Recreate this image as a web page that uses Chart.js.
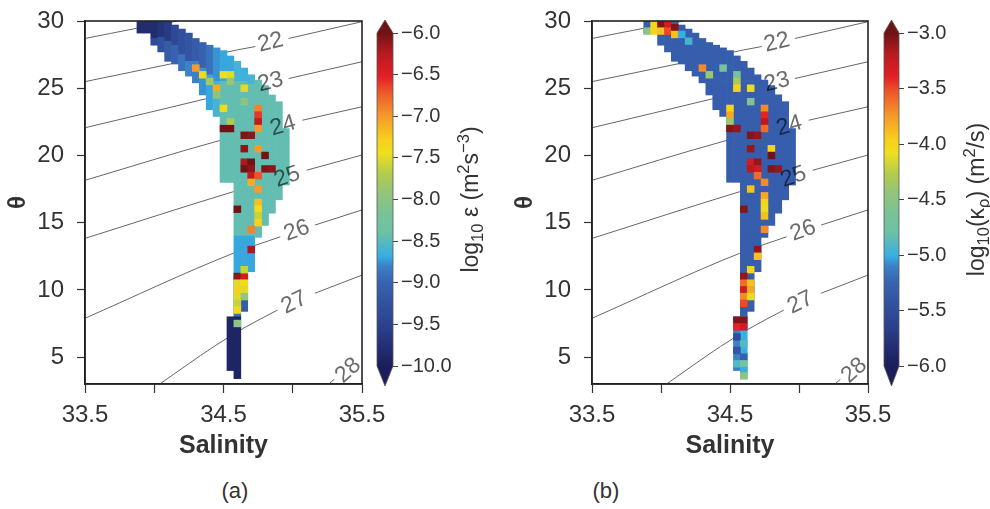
<!DOCTYPE html>
<html>
<head>
<meta charset="utf-8">
<script src="https://cdn.jsdelivr.net/npm/chart.js@4.4.0/dist/chart.umd.min.js"></script>
<style>
  body { margin: 0; background: #fff; width: 990px; height: 509px; overflow: hidden; position: relative;
         font-family: "Liberation Sans", Arial, sans-serif; }
  canvas { position: absolute; top: 0; }
  .cap { position: absolute; top: 478px; width: 60px; text-align: center; font-size: 22px; color: #333; }
</style>
</head>
<body>
<canvas id="mainA" width="400" height="470" style="left:0"></canvas>
<canvas id="barA" width="130" height="420" style="left:360px"></canvas>
<canvas id="mainB" width="400" height="470" style="left:507px"></canvas>
<canvas id="barB" width="122" height="420" style="left:868px"></canvas>
<div class="cap" style="left:205px">(a)</div>
<div class="cap" style="left:576px">(b)</div>
<script>
// axes
const salTicks = [33.5, 34, 34.5, 35, 35.5];
const salLabels = ['33.5', '', '34.5', '', '35.5'];
const thetaTicks = [5, 10, 15, 20, 25, 30];
const epsTicks = [-10, -9.5, -9, -8.5, -8, -7.5, -7, -6.5, -6];
const kapTicks = [-6, -5.5, -5, -4.5, -4, -3.5, -3];

// colour map (fraction -> colour)
const cmapPos = [0, 0.12, 0.25, 0.30, 0.33, 0.40, 0.45, 0.52, 0.58, 0.64, 0.68, 0.75, 0.82, 0.87, 0.94, 1];
const cmapCol = ['#1b1e5a', '#2b418d', '#3862b0', '#3b80c8', '#37aee3', '#6cc1a6', '#78c29a', '#92c57a',
                 '#b5cc4a', '#f0df1e', '#f7cf1d', '#f59a2b', '#ee5a2a', '#e21f26', '#b51b20', '#6f1315'];

// cells: vertical runs of the T-S histogram (salinity column, theta low, theta high)
const runS  = [33.9, 33.95, 34.0, 34.0, 34.05, 34.05, 34.1, 34.1, 34.15, 34.15, 34.2, 34.2, 34.25, 34.25,
               34.3, 34.3, 34.35, 34.35, 34.4, 34.4, 34.45, 34.45, 34.5, 34.5, 34.55, 34.55, 34.55,
               34.6, 34.6, 34.6, 34.6, 34.6, 34.65, 34.65, 34.65, 34.65, 34.7, 34.7, 34.7,
               34.75, 34.8, 34.85, 34.9, 34.95];
const runLo = [29.1, 29.1, 28.7, 28.2, 28.8, 27.7, 28.5, 27.0, 28.2, 26.8, 27.5, 26.3, 27.0, 25.9,
               27.0, 25.4, 26.5, 24.5, 26.0, 23.4, 25.5, 22.9, 25.5, 18.0, 25.5, 18.0, 4.0,
               25.5, 14.0, 11.0, 8.0, 3.4, 25.5, 14.0, 11.0, 8.4, 25.3, 14.0, 11.35,
               13.9, 14.8, 15.7, 16.7, 17.8];
const runHi = [30, 30, 30, 28.7, 30, 28.8, 30, 28.5, 29.7, 28.2, 29.4, 27.5, 29.1, 27.0,
               28.7, 27.0, 28.4, 26.5, 28.2, 26.0, 28.0, 25.5, 27.8, 25.5, 27.4, 25.5, 8.0,
               27.0, 25.5, 14.0, 11.0, 8.0, 26.5, 25.5, 14.0, 11.0, 26.0, 25.3, 14.0,
               25.6, 25.2, 24.5, 24.0, 22.0];
// log10 epsilon of each run (panel a)
const runEps = [-9.8, -9.8, -9.8, -9.4, -9.7, -9.3, -9.6, -9.1, -9.4, -9.0, -9.3, -8.9, -9.2, -8.8,
                -9.1, -8.8, -9.0, -8.75, -8.9, -8.7, -8.75, -8.6, -8.7, -8.45, -8.7, -8.45, -9.9,
                -8.6, -8.45, -8.7, -8.9, -9.9, -8.65, -8.45, -8.7, -9.1, -8.6, -8.45, -8.7,
                -8.45, -8.45, -8.45, -8.45, -8.45];
// log10 kappa of each run (panel b)
const runKap = [-5.3, -5.3, -5.3, -5.3, -5.3, -5.3, -5.3, -5.3, -5.3, -5.3, -5.3, -5.3, -5.3, -5.3,
                -5.3, -5.3, -5.3, -5.3, -5.3, -5.3, -5.3, -5.3, -5.3, -5.3, -5.3, -5.3, -5.1,
                -5.3, -5.3, -5.3, -5.3, -5.0, -5.3, -5.3, -5.3, -5.3, -5.3, -5.3, -5.3,
                -5.3, -5.3, -5.3, -5.3, -5.3];

// single bright cells, panel a
const epsS = [34.3, 34.35, 34.4, 34.45, 34.5, 34.55, 34.55, 34.65, 34.65, 34.5, 34.55, 34.45,
              34.5, 34.55, 34.75, 34.75, 34.75, 34.75, 34.65, 34.7, 34.65, 34.75, 34.8,
              34.65, 34.7, 34.65, 34.7, 34.8, 34.85, 34.7, 34.75, 34.7, 34.75, 34.75, 34.75,
              34.75, 34.75, 34.6, 34.7, 34.7,
              34.6, 34.65, 34.65, 34.6, 34.65, 34.6, 34.65, 34.6, 34.65, 34.6, 34.6, 34.6];
const epsT = [26.5, 26.0, 25.5, 25.0, 26.0, 26.0, 25.5, 25.0, 24.0, 23.5, 22.5, 24.5,
              22.0, 22.0, 23.5, 23.0, 22.5, 22.0, 21.5, 21.5, 20.5, 20.5, 20.0,
              19.5, 19.5, 19.0, 19.0, 19.0, 19.0, 18.5, 18.5, 18.0, 17.5, 16.5, 16.0,
              15.5, 15.0, 16.0, 14.5, 13.0,
              11.0, 11.0, 11.5, 10.5, 10.5, 10.0, 10.0, 9.5, 9.5, 9.0, 8.5, 7.5];
const epsV = [-7.0, -7.4, -7.8, -7.1, -7.45, -7.5, -7.9, -7.5, -8.0, -7.4, -7.7, -8.0,
              -6.0, -6.0, -6.9, -6.6, -6.3, -7.0, -6.05, -6.1, -6.1, -7.0, -6.0,
              -6.2, -6.0, -6.0, -6.1, -6.05, -6.1, -6.3, -6.7, -7.1, -7.0, -7.2, -7.4,
              -7.6, -7.3, -6.0, -6.9, -6.2,
              -6.1, -6.4, -7.6, -7.5, -7.4, -7.3, -7.5, -7.5, -7.9, -7.6, -7.4, -8.0];

// single bright cells, panel b
const kapS = [33.9, 33.95, 33.95, 34.0, 34.0, 34.05, 34.05, 34.1, 34.1, 34.15, 34.2,
              34.3, 34.35, 34.45, 34.55, 34.55, 34.55, 34.65, 34.65, 34.5, 34.5, 34.5,
              34.5, 34.55, 34.75, 34.75, 34.75, 34.75, 34.65, 34.7, 34.65, 34.8, 34.8,
              34.65, 34.7, 34.65, 34.7, 34.7, 34.8, 34.85, 34.75, 34.65, 34.75, 34.75, 34.75, 34.75,
              34.6, 34.75, 34.7, 34.7, 34.65, 34.6, 34.6, 34.65, 34.6, 34.65, 34.6, 34.65, 34.6,
              34.55, 34.6, 34.55, 34.6, 34.55, 34.6, 34.55, 34.6, 34.55, 34.6, 34.6, 34.6];
const kapT = [29.25, 29.25, 29.75, 29.75, 29.25, 29.75, 29.25, 29.5, 29.0, 29.0, 28.5,
              26.5, 26.0, 26.5, 26.0, 25.5, 25.0, 25.0, 24.0, 23.5, 23.0, 22.5,
              22.0, 22.0, 23.5, 23.0, 22.5, 22.0, 21.5, 21.5, 20.5, 20.5, 20.0,
              19.5, 19.5, 19.0, 19.0, 18.5, 19.0, 19.0, 18.0, 17.5, 17.0, 16.5, 16.0, 15.5,
              16.0, 14.5, 13.0, 12.5, 11.5, 11.0, 10.5, 10.5, 10.0, 10.0, 9.5, 9.5, 9.0,
              7.75, 7.75, 7.25, 7.25, 6.5, 6.0, 5.5, 5.0, 4.5, 4.5, 4.0, 3.6];
const kapV = [-4.5, -4.0, -4.0, -3.05, -3.9, -3.3, -3.5, -3.05, -3.9, -5.0, -4.95,
              -3.7, -4.4, -4.7, -4.7, -4.3, -4.0, -4.1, -4.6, -4.0, -3.8, -4.4,
              -3.05, -3.1, -3.7, -3.4, -3.2, -3.6, -3.05, -3.1, -3.1, -4.0, -3.0,
              -3.3, -3.1, -3.2, -3.3, -3.6, -3.05, -3.1, -3.7, -3.9, -3.8, -4.0, -4.1, -3.9,
              -3.05, -3.7, -3.1, -3.9, -4.0, -3.1, -3.6, -3.9, -3.3, -3.8, -3.7, -4.1, -3.5,
              -3.05, -3.05, -3.4, -3.3, -5.5, -4.9, -5.4, -5.3, -4.9, -4.7, -5.0, -4.5];

// isopycnals (salinity, theta); null = gap for the label
const iso21 = [[33.5, 28.7], [33.87, 29.45], [34.17, 30.0]];
const iso22 = [[33.5, 25.49], [34.13, 26.83], [34.6, 27.85], [34.73, 28.1], null, [34.97, 28.7], [35.5, 29.95]];
const iso23 = [[33.5, 22.06], [34.38, 24.23], [34.72, 25.1], null, [34.97, 25.72], [35.5, 26.97]];
const iso24 = [[33.5, 18.15], [34.48, 21.13], [34.82, 22.0], null, [35.07, 22.62], [35.5, 23.62]];
const iso25 = [[33.5, 13.83], [34.57, 17.3], [34.84, 18.1], null, [35.1, 18.9], [35.5, 20.03]];
const iso26 = [[33.5, 7.89], [34.57, 12.72], [34.91, 13.95], null, [35.16, 14.82], [35.5, 15.95]];
const iso27 = [[34.04, 3.0], [34.43, 5.78], [34.645, 7.15], [34.89, 8.5], null, [35.16, 9.75], [35.5, 11.1]];
const iso28 = [[35.26, 3.0], [35.3, 3.35]];
const isoLines = [iso21, iso22, iso23, iso24, iso25, iso26, iso27, iso28];

const isoText  = ['22', '23', '24', '25', '26', '27', '28'];
const isoLabS  = [34.84, 34.84, 34.93, 34.96, 35.03, 35.01, 35.4];
const isoLabT  = [28.4, 25.45, 22.2, 18.4, 14.4, 9.05, 4.0];
const isoAngle = [-14, -14, -16, -20, -20, -26, -42];

const FAMILY = '"Liberation Sans", Arial, sans-serif';

function hexRgb(h) {
  return [parseInt(h.slice(1, 3), 16), parseInt(h.slice(3, 5), 16), parseInt(h.slice(5, 7), 16)];
}
function cmap(v, lo, hi) {
  let f = Math.min(1, Math.max(0, (v - lo) / (hi - lo)));
  let i = 1;
  while (i < cmapPos.length - 1 && cmapPos[i] < f) i++;
  const t = (f - cmapPos[i - 1]) / (cmapPos[i] - cmapPos[i - 1]);
  const a = hexRgb(cmapCol[i - 1]), b = hexRgb(cmapCol[i]);
  const c = a.map((x, k) => Math.round(x + (b[k] - x) * t));
  return `rgb(${c[0]},${c[1]},${c[2]})`;
}

const framePlugin = {
  id: 'frame',
  afterDatasetsDraw(chart) {
    const { ctx, scales: { x, y } } = chart;
    ctx.save();
    ctx.globalCompositeOperation = 'multiply';
    ctx.fillStyle = '#6b6b6b';
    ctx.font = '23px ' + FAMILY;
    ctx.textAlign = 'center';
    ctx.textBaseline = 'middle';
    isoText.forEach((t, i) => {
      ctx.save();
      ctx.translate(x.getPixelForValue(isoLabS[i]), y.getPixelForValue(isoLabT[i]));
      ctx.rotate(isoAngle[i] * Math.PI / 180);
      ctx.fillText(t, 0, 0);
      ctx.restore();
    });
    ctx.restore();
  },
  afterDraw(chart) {
    const { ctx, chartArea: a } = chart;
    ctx.save();
    ctx.strokeStyle = '#222';
    ctx.lineWidth = 1.6;
    ctx.strokeRect(a.left, a.top, a.width, a.height);
    ctx.restore();
  }
};

function mainChart(id, vals, hS, hT, hV, lo, hi, padRight) {
  const runs = runS.map((s, i) => ({ x: s, y: [runLo[i], runHi[i]] }));
  const spots = hS.map((s, i) => ({ x: s, y: [hT[i] - 0.25, hT[i] + 0.25] }));
  const lines = isoLines.map(c => ({
    type: 'line',
    data: c.map(p => p ? { x: p[0], y: p[1] } : { x: null, y: null }),
    borderColor: '#666',
    borderWidth: 1,
    pointRadius: 0,
    cubicInterpolationMode: 'monotone',
    spanGaps: false,
    order: 3
  }));
  const tickFont = { family: FAMILY, size: 24 };
  new Chart(document.getElementById(id), {
    type: 'bar',
    data: {
      datasets: [
        { data: spots, backgroundColor: hV.map(v => cmap(v, lo, hi)), order: 1 },
        { data: runs, backgroundColor: vals.map(v => cmap(v, lo, hi)), order: 2 },
        ...lines
      ]
    },
    options: {
      responsive: false,
      animation: false,
      datasets: { bar: { grouped: false, barPercentage: 1, categoryPercentage: 1, borderWidth: 0 } },
      layout: { padding: { top: 21, right: padRight, left: 0, bottom: 0 } },
      plugins: { legend: { display: false }, tooltip: { enabled: false } },
      scales: {
        x: {
          type: 'linear', min: 33.5, max: 35.5, offset: false,
          afterBuildTicks: ax => { ax.ticks = salTicks.map(v => ({ value: v })); },
          afterFit: ax => { ax.height = 86; ax.paddingLeft = 0; ax.paddingRight = 0; },
          grid: { drawOnChartArea: false, offset: false, tickLength: 9, tickColor: '#333', tickWidth: 1.2 },
          border: { color: '#222', width: 1.6 },
          ticks: { font: tickFont, color: '#333', padding: 8, maxRotation: 0, autoSkip: false,
                   callback: v => salLabels[salTicks.indexOf(v)] || '' },
          title: { display: true, text: 'Salinity', color: '#333',
                   font: { family: FAMILY, size: 25, weight: 'bold' }, padding: { bottom: 9, top: 0 } }
        },
        y: {
          type: 'linear', min: 3, max: 30,
          afterBuildTicks: ax => { ax.ticks = thetaTicks.map(v => ({ value: v })); },
          afterFit: ax => { ax.width = 85; ax.paddingTop = 0; ax.paddingBottom = 0; },
          grid: { drawOnChartArea: false, tickLength: 8, tickColor: '#333', tickWidth: 1.2 },
          border: { color: '#222', width: 1.6 },
          ticks: { font: tickFont, color: '#333', padding: 13 },
          title: { display: true, text: 'θ', color: '#333',
                   font: { family: FAMILY, size: 24, weight: 'bold' }, padding: { top: 4, bottom: 0 } }
        }
      }
    },
    plugins: [framePlugin]
  });
}

function drawRich(ctx, parts, x, y, size) {
  const fnt = s => s + 'px ' + FAMILY;
  const small = size * 0.72;
  ctx.save();
  ctx.translate(x, y);
  ctx.rotate(-Math.PI / 2);
  ctx.fillStyle = '#333';
  ctx.textBaseline = 'alphabetic';
  let w = 0;
  parts.forEach(p => { ctx.font = fnt(p[1] ? small : size); w += ctx.measureText(p[0]).width; });
  let cx = -w / 2;
  parts.forEach(p => {
    ctx.font = fnt(p[1] ? small : size);
    const dy = p[1] === 1 ? -size * 0.42 : p[1] === -1 ? size * 0.22 : 0;
    ctx.fillText(p[0], cx, size * 0.36 + dy);
    cx += ctx.measureText(p[0]).width;
  });
  ctx.restore();
}

const cbPlugin = {
  id: 'cb',
  afterDatasetsDraw(chart, args, o) {
    const { ctx, chartArea: a, scales: { y } } = chart;
    const top = y.getPixelForValue(y.max), bot = y.getPixelForValue(y.min);
    const mid = (a.left + a.right) / 2;
    ctx.save();
    ctx.fillStyle = cmap(1, 0, 1);
    ctx.beginPath();
    ctx.moveTo(a.left, top); ctx.lineTo(mid, top - o.capTop); ctx.lineTo(a.right, top); ctx.closePath();
    ctx.fill();
    ctx.fillStyle = cmap(0, 0, 1);
    ctx.beginPath();
    ctx.moveTo(a.left, bot); ctx.lineTo(mid, bot + o.capBot); ctx.lineTo(a.right, bot); ctx.closePath();
    ctx.fill();
    ctx.beginPath();
    ctx.moveTo(a.left, top); ctx.lineTo(mid, top - o.capTop); ctx.lineTo(a.right, top);
    ctx.lineTo(a.right, bot); ctx.lineTo(mid, bot + o.capBot); ctx.lineTo(a.left, bot); ctx.closePath();
    ctx.strokeStyle = '#555';
    ctx.lineWidth = 0.8;
    ctx.stroke();
    ctx.restore();
    drawRich(ctx, o.title, o.titleX, (top + bot) / 2, 23);
  }
};

function barChart(id, lo, hi, ticks, padLeft, axisW, title, titleX) {
  new Chart(document.getElementById(id), {
    type: 'bar',
    data: {
      labels: [''],
      datasets: [{
        data: [[lo, hi]],
        borderWidth: 0,
        barPercentage: 1,
        categoryPercentage: 1,
        backgroundColor: c => {
          const { ctx, scales } = c.chart;
          const y0 = scales.y ? scales.y.getPixelForValue(lo) : NaN;
          const y1 = scales.y ? scales.y.getPixelForValue(hi) : NaN;
          if (!isFinite(y0) || !isFinite(y1)) return '#888';
          const g = ctx.createLinearGradient(0, y0, 0, y1);
          cmapPos.forEach((p, i) => g.addColorStop(p, cmapCol[i]));
          return g;
        }
      }]
    },
    options: {
      responsive: false,
      animation: false,
      layout: { padding: { left: padLeft, top: 33, bottom: 54, right: 0 } },
      plugins: {
        legend: { display: false }, tooltip: { enabled: false },
        cb: { capTop: 13, capBot: 20, title: title, titleX: titleX }
      },
      scales: {
        x: { display: false },
        y: {
          position: 'right', min: lo, max: hi,
          afterBuildTicks: ax => { ax.ticks = ticks.map(v => ({ value: v })); },
          afterFit: ax => { ax.width = axisW; ax.paddingTop = 0; ax.paddingBottom = 0; },
          grid: { drawOnChartArea: false, tickLength: 5, tickColor: '#444' },
          border: { display: false },
          ticks: { font: { family: FAMILY, size: 20 }, color: '#333', padding: 3,
                   callback: v => (v < 0 ? '\u2212' : '') + Math.abs(v).toFixed(1) }
        }
      }
    },
    plugins: [cbPlugin]
  });
}

mainChart('mainA', runEps, epsS, epsT, epsV, -10, -6, 38);
mainChart('mainB', runKap, kapS, kapT, kapV, -6, -3, 39);
barChart('barA', -10, -6, epsTicks, 17, 97,
  [['log', 0], ['10', -1], [' \u03b5 (m', 0], ['2', 1], ['s', 0], ['\u22123', 1], [')', 0]], 110);
barChart('barB', -6, -3, kapTicks, 16, 91,
  [['log', 0], ['10', -1], ['(\u03ba', 0], ['\u03c1', -1], [') (m', 0], ['2', 1], ['/s)', 0]], 108);
</script>
</body>
</html>
